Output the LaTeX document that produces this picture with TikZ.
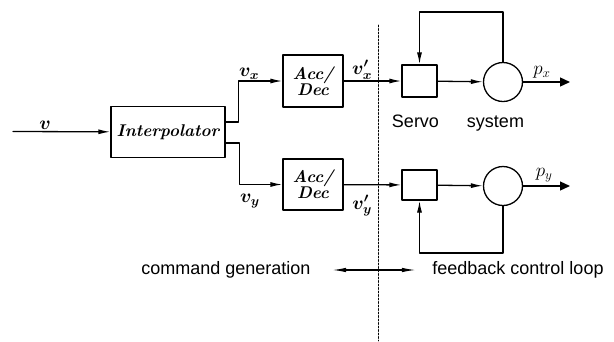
\documentclass[tikz,border=0pt]{standalone}
\usepackage{fix-cm}
\usepackage{fontspec}
\usepackage{bm}
\usetikzlibrary{arrows.meta}
\newfontfamily\arialfont{Liberation Sans}

\begin{document}
\begin{tikzpicture}[line cap=round,line join=round,x=1pt,y=-1pt,>={Latex[length=12pt,width=5pt]},
	blk/.style={draw,line width=1.3pt,inner sep=0pt,font=\fontsize{17}{18}\selectfont\bfseries\itshape},
	sig/.style={->,line width=1.3pt},
	outsig/.style={-{Triangle[length=10pt,width=9pt]},line width=1.3pt},
	lbl/.style={font=\fontsize{19}{20}\selectfont},
	txt/.style={font=\arialfont\fontsize{18}{20}\selectfont}]
	\useasboundingbox (0,0) rectangle (614,341);
	% command generation
	\coordinate (in) at (13,131.5);
	\node[blk,minimum width=114pt,minimum height=51pt] (interp) at (168,132) {Interpolator};
	\node[blk,minimum width=60pt,minimum height=52pt,align=center] (accx) at (313,81) {Acc/\\[-2pt]Dec};
	\node[blk,minimum width=60pt,minimum height=51pt,align=center] (accy) at (313,184.5) {Acc/\\[-2pt]Dec};
	% servo system
	\node[blk,minimum width=35pt,minimum height=32pt] (servox) at (419.5,81) {};
	\node[blk,minimum width=35pt,minimum height=30pt] (servoy) at (419.5,185) {};
	\node[blk,circle,minimum size=39pt] (sysx) at (503,82) {};
	\node[blk,circle,minimum size=39pt] (sysy) at (503,186) {};
	\coordinate (px) at (570,82);
	\coordinate (py) at (570,186);
	% signals
	\draw[sig] (in) -- (interp) node[lbl,pos=0.33,above=-2pt] (v) {$\bm{v}$};
	\draw[sig] ([yshift=10pt]interp.east) -- ++(13,0) |- (accx) node[lbl,pos=0.62,above=-2pt] (vx) {$\bm{v_x}$};
	\draw[sig] ([yshift=-11pt]interp.east) -- ++(14,0) |- (accy) node[lbl,pos=0.62,below=6pt] (vy) {$\bm{v_y}$};
	\draw[sig] (accx) -- (servox) node[lbl,pos=0.32,above=-2pt] (vxd) {$\bm{v'_x}$};
	\draw[sig] (accy) -- (servoy) node[lbl,pos=0.32,below=6pt] (vyd) {$\bm{v'_y}$};
	\draw[sig] (servox) -- (sysx);
	\draw[sig] (servoy) -- (sysy);
	\draw[outsig] (sysx) -- (px) node[lbl,pos=0.4,above=0pt] (pxl) {$p_x$};
	\draw[outsig] (sysy) -- (py) node[lbl,pos=0.45,above=0pt] (pyl) {$p_y$};
	% feedback
	\draw[sig] (sysx.north) -- (sysx.north |- 0,12) -| (servox.north);
	\draw[sig] (sysy.south) -- (sysy.south |- 0,253) -| (servoy.south);
	\node[txt] (srvlbl) at (458,123) {Servo\hspace{28pt}system};
	% border
	\draw[line width=0.6pt,dash pattern=on 2pt off 1.5pt] (378,25) -- (378,341);
	\node[txt] (cmd) at (226,270) {command generation};
	\node[txt] (fbl) at (518,270) {feedback control loop};
	\draw[<->,line width=1.3pt,>={Latex[length=14pt,width=4.5pt]},shorten <=18pt,shorten >=13pt] (cmd) -- (fbl);
\end{tikzpicture}
\end{document}
